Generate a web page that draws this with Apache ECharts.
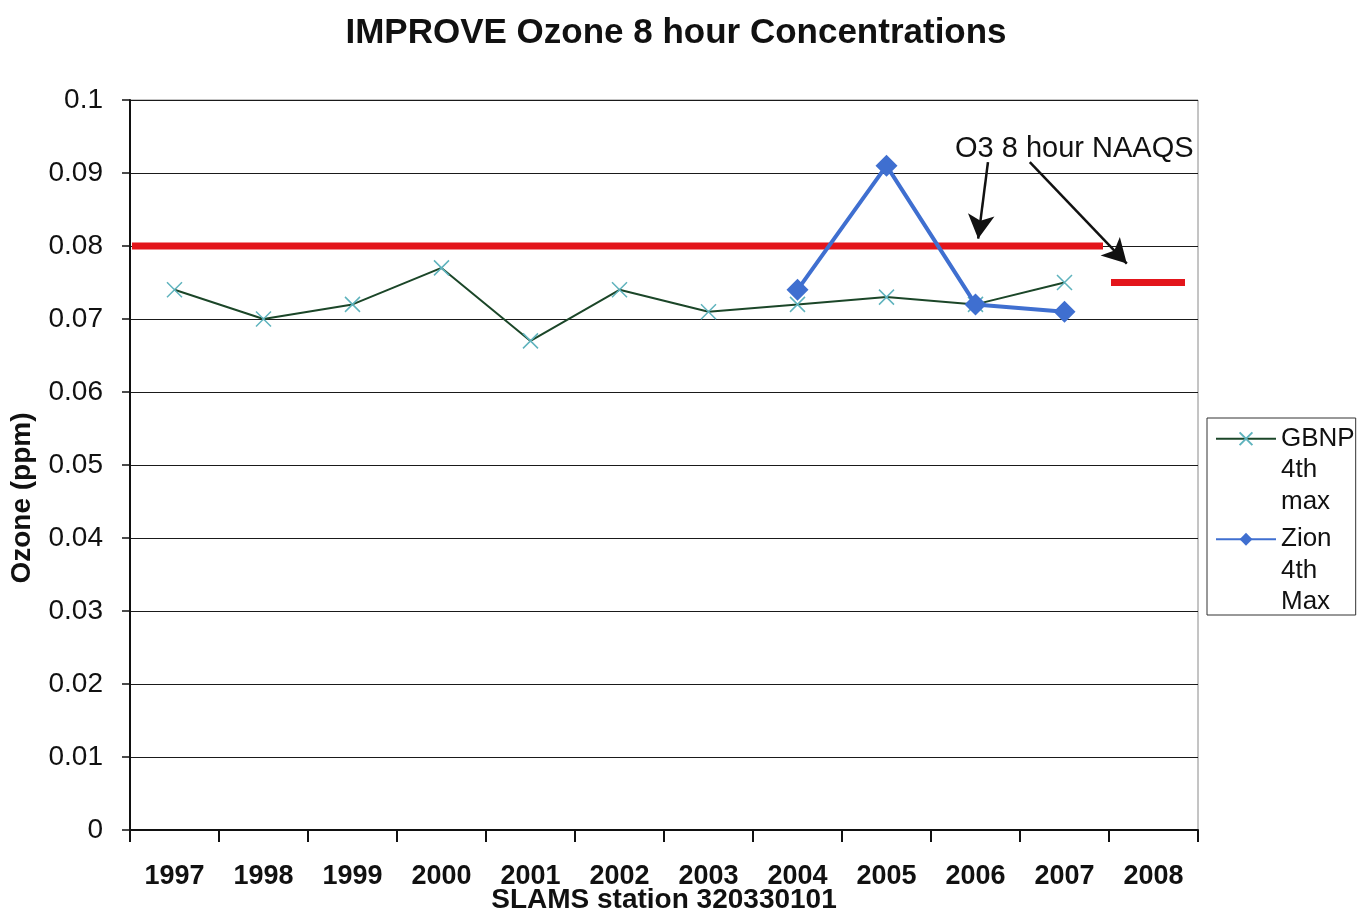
<!DOCTYPE html>
<html>
<head>
<meta charset="utf-8">
<script src="https://cdn.jsdelivr.net/npm/echarts@6/dist/echarts.min.js"></script>
<style>
  html, body { margin: 0; padding: 0; background: #ffffff; }
  #chart { width: 1358px; height: 910px; }
</style>
</head>
<body>
<div id="chart"></div>
<script>
// Monitoring years on the category axis
const years = ['1997', '1998', '1999', '2000', '2001', '2002', '2003', '2004', '2005', '2006', '2007', '2008'];

// Fourth-highest 8-hour ozone, ppm
const gbnp4thMax = [0.074, 0.070, 0.072, 0.077, 0.067, 0.074, 0.071, 0.072, 0.073, 0.072, 0.075, null];
const zion4thMax = [null, null, null, null, null, null, null, 0.074, 0.091, 0.072, 0.071, null];

// 8-hour ozone NAAQS in force each year, ppm
const naaqsByYear = [0.08, 0.08, 0.08, 0.08, 0.08, 0.08, 0.08, 0.08, 0.08, 0.08, 0.08, 0.075];

// Y axis ticks
const yTicks = { min: 0, max: 0.1, step: 0.01 };

const FONT = '"Liberation Sans", Arial, sans-serif';
const chart = echarts.init(document.getElementById('chart'));

// Draw the standard as one horizontal bar per year, joined across equal values
function renderStandard(params, api) {
  const i = api.value(0);
  const v = api.value(1);
  const c = api.coord([i, v]);
  const band = api.size([1, 0])[0];
  const n = naaqsByYear.length;
  const runStart = i === 0 || naaqsByYear[i - 1] !== v;
  const runEnd = i === n - 1 || naaqsByYear[i + 1] !== v;
  const x0 = c[0] - band / 2 + (runStart ? 2 : 0);
  const x1 = c[0] + band / 2 - (runEnd ? (i === n - 1 ? 13 : 6) : 0);
  return {
    type: 'line',
    shape: { x1: x0, y1: c[1], x2: x1, y2: c[1] },
    style: { stroke: '#e3151b', lineWidth: 7 }
  };
}

// Legend label: two blank lines on top keep the icon level with the first word
const legendLabel = name => '\n\n' + name.split(' ').join('\n');

const option = {
  backgroundColor: '#ffffff',
  animation: false,
  title: {
    text: 'IMPROVE Ozone 8 hour Concentrations',
    left: 671,
    textAlign: 'center',
    top: 11,
    textStyle: { fontFamily: FONT, fontSize: 35, fontWeight: 'bold', color: '#111' }
  },
  grid: {
    left: 130, right: 160, top: 100, bottom: 80,
    outerBoundsMode: 'none',
    containLabel: false,
    show: true, borderColor: '#8a8a8a', borderWidth: 1, backgroundColor: 'transparent'
  },
  legend: {
    orient: 'vertical',
    left: 1207,
    top: 418,
    padding: [-58, 1, -3, 8],
    itemWidth: 60,
    itemHeight: 16,
    itemGap: -57,
    borderColor: '#333',
    borderWidth: 1,
    data: ['GBNP 4th max', 'Zion 4th Max'],
    formatter: legendLabel,
    textStyle: { fontFamily: FONT, fontSize: 26, color: '#111', lineHeight: 31.5 }
  },
  xAxis: [
    {
      type: 'category',
      data: years,
      boundaryGap: true,
      axisLine: { lineStyle: { color: '#111', width: 2 } },
      axisTick: { show: true, length: 12, lineStyle: { color: '#111', width: 2 } },
      axisLabel: { margin: 33, fontFamily: FONT, fontSize: 27, fontWeight: 'bold', color: '#111' },
      splitLine: { show: false },
      name: 'SLAMS station 320330101',
      nameLocation: 'middle',
      nameGap: 56,
      nameMoveOverlap: false,
      nameTextStyle: { fontFamily: FONT, fontSize: 28, fontWeight: 'bold', color: '#111' }
    },
    {
      // continuous companion axis for annotation arrows
      type: 'value', min: -0.5, max: 11.5, show: false,
      splitLine: { show: false }
    }
  ],
  yAxis: {
    type: 'value',
    min: yTicks.min,
    max: yTicks.max,
    interval: yTicks.step,
    axisLine: { show: true, onZero: false, lineStyle: { color: '#111', width: 2 } },
    axisTick: { show: true, length: 8, lineStyle: { color: '#111', width: 1.5 } },
    axisLabel: {
      margin: 27, fontFamily: FONT, fontSize: 28, color: '#111',
      formatter: v => String(+v.toFixed(2))
    },
    splitLine: { lineStyle: { color: '#1a1a1a', width: 1 } },
    name: 'Ozone (ppm)',
    nameLocation: 'middle',
    nameGap: 94,
    nameMoveOverlap: false,
    nameTextStyle: {
      fontFamily: FONT, fontSize: 28, fontWeight: 'bold', color: '#111',
      padding: [0, 66, 0, 0]
    }
  },
  series: [
    {
      name: 'NAAQS',
      type: 'custom',
      renderItem: renderStandard,
      data: naaqsByYear.map((v, i) => [i, v]),
      z: 2
    },
    {
      name: 'GBNP 4th max',
      type: 'line',
      data: gbnp4thMax,
      symbol: 'path://M0,0L10,10M10,0L0,10',
      symbolSize: 15,
      showSymbol: true,
      lineStyle: { color: '#1b4628', width: 2 },
      itemStyle: { color: '#1b4628', borderColor: '#5fb3bd', borderWidth: 1.5 },
      z: 3
    },
    {
      name: 'Zion 4th Max',
      type: 'line',
      data: zion4thMax,
      symbol: 'diamond',
      symbolSize: 22,
      lineStyle: { color: '#3f6fd0', width: 4 },
      itemStyle: { color: '#3f6fd0' },
      z: 4
    },
    {
      // annotation arrows pointing at the two standards
      name: 'arrows',
      type: 'line',
      xAxisIndex: 1,
      data: [],
      silent: true,
      markLine: {
        silent: true,
        symbol: ['none', 'arrow'],
        symbolSize: [20, 24],
        label: { show: false },
        lineStyle: { color: '#111', width: 2.5, type: 'solid' },
        data: [
          [{ coord: [9.14, 0.0915] }, { coord: [9.03, 0.0810] }],
          [{ coord: [9.61, 0.0915] }, { coord: [10.70, 0.0776] }]
        ]
      }
    }
  ],
  graphic: [
    {
      type: 'text',
      left: 955,
      top: 134,
      style: { text: 'O3 8 hour NAAQS', font: '29px ' + FONT, fill: '#111' }
    }
  ]
};

chart.setOption(option);
</script>
</body>
</html>
